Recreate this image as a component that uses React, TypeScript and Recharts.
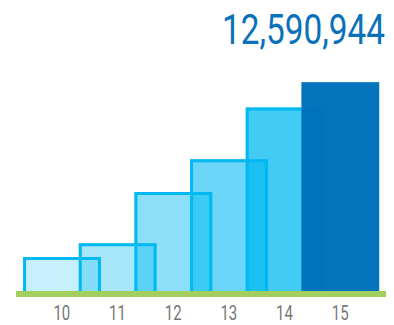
import { BarChart, Bar, XAxis, YAxis } from "recharts";

const years = ["10", "11", "12", "13", "14", "15"];
const totals = [2050000, 2875000, 5970000, 7940000, 11060000, 12590944];
const headline = "12,590,944";

const data = years.map((year, i) => ({ year, total: totals[i] }));

// fill opacity of the cyan bars, darkest last
const fillOpacity = [0.22, 0.34, 0.45, 0.58, 0.74];
const WIDEN = 1.39;

const SpreadBar = (props: any) => {
    const { x, y, width, height, index } = props;
    const w = width * WIDEN;
    const left = x + width / 2 - w / 2;
    const right = left + w;
    if (index === years.length - 1) {
        return (
            <rect x={left} y={y} width={w} height={height} fill="#0071bb" fillOpacity={0.98} />
        );
    }
    const bottom = y + height;
    return (
        <g>
            <rect
                x={left}
                y={y}
                width={w}
                height={height}
                fill="#00b9f1"
                fillOpacity={fillOpacity[index]}
            />
            <path
                d={`M${left + 1.5},${bottom} V${y + 1.5} H${right - 1.5} V${bottom}`}
                fill="none"
                stroke="#00b9f1"
                strokeWidth={3}
            />
        </g>
    );
};

// condensed look: squeeze the glyphs horizontally
const YearTick = (props: any) => {
    const { x, y, payload } = props;
    return (
        <text
            transform={`translate(${x},${y + 26}) scale(0.75,1)`}
            textAnchor="middle"
            fill="#777777"
            fontSize={20}
            fontFamily="Roboto"
        >
            {payload.value}
        </text>
    );
};

export default function App() {
    return (
        <div style={{ position: "absolute", left: 0, top: 0, width: 394, height: 325 }}>
            <svg
                width={394}
                height={60}
                style={{ position: "absolute", left: 0, top: 0 }}
            >
                <text
                    transform="translate(385,44) scale(0.776,1)"
                    textAnchor="end"
                    fill="#0a71b8"
                    fontSize={43}
                    fontFamily="Roboto"
                >
                    {headline}
                </text>
            </svg>
            <BarChart
                width={394}
                height={325}
                data={data}
                margin={{ top: 76, right: 8, bottom: 0, left: 16 }}
                barCategoryGap={0}
            >
                <XAxis
                    dataKey="year"
                    height={31}
                    padding={{ left: 18, right: 18 }}
                    axisLine={{ stroke: "#a3cf5f", strokeWidth: 6 }}
                    tickLine={false}
                    tickSize={0}
                    tickMargin={0}
                    tick={<YearTick />}
                    interval={0}
                />
                <YAxis hide domain={[-180000, 12960000]} />
                <Bar
                    dataKey="total"
                    shape={<SpreadBar />}
                    isAnimationActive={false}
                />
            </BarChart>
        </div>
    );
}
